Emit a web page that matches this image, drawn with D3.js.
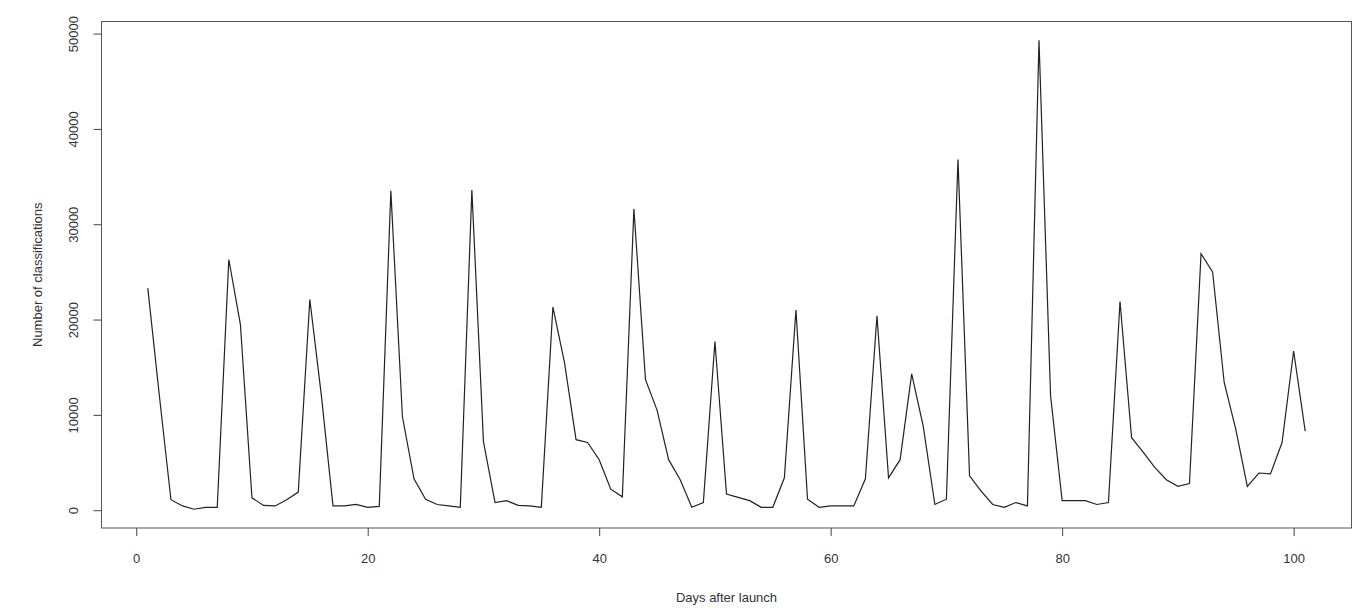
<!DOCTYPE html>
<html>
<head>
<meta charset="utf-8">
<script src="https://cdn.jsdelivr.net/npm/d3@7"></script>
<style>
  body { margin: 0; background: #fff; }
  svg text { font-family: "Liberation Sans", Arial, sans-serif; fill: #333; }
</style>
</head>
<body>
<div id="root"></div>
<script>
// day-by-day counts (days 1..101)
var days = d3.range(1, 102);
var classifications = [
  23300, 12000, 1100, 450, 100, 300, 300, 26300, 19500, 1300,
  500, 450, 1100, 1900, 22100, 12000, 450, 450, 600, 300,
  400, 33500, 9800, 3300, 1150, 600, 450, 300, 33600, 7200,
  800, 1000, 500, 450, 300, 21300, 15500, 7400, 7100, 5300,
  2200, 1400, 31600, 13700, 10500, 5300, 3200, 300, 800, 17700,
  1700, 1350, 1000, 300, 300, 3400, 21000, 1150, 300, 450,
  450, 450, 3300, 20400, 3400, 5300, 14300, 8800, 600, 1150,
  36800, 3600, 2000, 600, 300, 800, 450, 49300, 12000, 1000,
  1000, 1000, 600, 800, 21900, 7600, 6100, 4500, 3200, 2500,
  2800, 26900, 25000, 13400, 8500, 2500, 3900, 3800, 7100, 16700,
  8300
];
var xTicks = [0, 20, 40, 60, 80, 100];
var yTicks = [0, 10000, 20000, 30000, 40000, 50000];

var data = days.map(function(d, i) { return {day: d, value: classifications[i]}; });

var W = 1357, H = 613;
var margin = {top: 21.5, right: 5.5, bottom: 85, left: 101.5},
    width = W - margin.left - margin.right,
    height = H - margin.top - margin.bottom;

// R-style 4% padding on both axes
function padded(ext) {
  var r = ext[1] - ext[0];
  return [ext[0] - 0.04 * r, ext[1] + 0.04 * r];
}

var x = d3.scaleLinear()
    .domain(padded(d3.extent(days)))
    .range([0, width]);
var y = d3.scaleLinear()
    .domain(padded(d3.extent(classifications)))
    .range([height, 0]);

var svg = d3.select("#root").append("svg")
    .attr("width", W)
    .attr("height", H)
  .append("g")
    .attr("transform", "translate(" + margin.left + "," + margin.top + ")");

// the series
var line = d3.line()
    .x(function(d) { return x(d.day); })
    .y(function(d) { return y(d.value); });

svg.append("path")
    .datum(data)
    .attr("fill", "none")
    .attr("stroke", "#222")
    .attr("stroke-width", 1.2)
    .attr("stroke-linejoin", "miter")
    .attr("d", line);

// box around plot
svg.append("rect")
    .attr("width", width)
    .attr("height", height)
    .attr("fill", "none")
    .attr("stroke", "#555")
    .attr("stroke-width", 1);

// x axis
var xAxis = svg.append("g")
    .attr("transform", "translate(0," + height + ")")
    .call(d3.axisBottom(x).tickValues(xTicks).tickSize(8).tickPadding(18));
xAxis.select(".domain").remove();
xAxis.selectAll("line").attr("stroke", "#444");
xAxis.selectAll("text")
    .style("font-size", "13px")
    .attr("fill", "#333");

// y axis, labels rotated like R, no thousands separator
var yAxis = svg.append("g")
    .call(d3.axisLeft(y).tickValues(yTicks).tickSize(8).tickFormat(d3.format("d")));
yAxis.select(".domain").remove();
yAxis.selectAll("line").attr("stroke", "#444");
yAxis.selectAll("text")
    .attr("x", null).attr("dy", null)
    .style("font-size", "13px")
    .attr("fill", "#333")
    .attr("text-anchor", "middle")
    .attr("transform", "translate(-24,0) rotate(-90)");

// axis titles
svg.append("text")
    .attr("x", width / 2)
    .attr("y", height + 74)
    .attr("text-anchor", "middle")
    .style("font-size", "13px")
    .text("Days after launch");

svg.append("text")
    .attr("transform", "translate(" + (-60) + "," + (height / 2) + ") rotate(-90)")
    .attr("text-anchor", "middle")
    .style("font-size", "13px")
    .text("Number of classifications");
</script>
</body>
</html>
